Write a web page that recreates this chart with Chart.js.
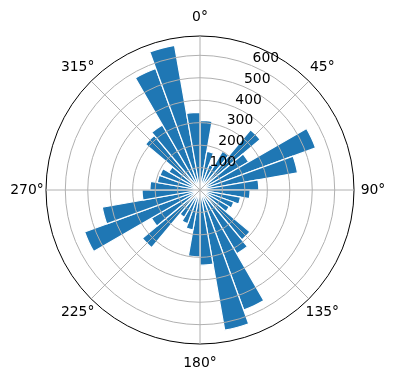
<!DOCTYPE html>
<html>
<head>
<meta charset="utf-8">
<script src="https://cdn.jsdelivr.net/npm/chart.js@4"></script>
<style>
  html, body { margin: 0; padding: 0; background: #fff; }
  #wrap { width: 396px; height: 380px; }
</style>
</head>
<body>
<div id="wrap"><canvas id="rose" width="396" height="380"></canvas></div>
<script>
// 36 bins of 10 degrees, clockwise from north (0-10, 10-20, ...)
const binCounts = [
  310, 175, 120, 200, 350, 250, 548, 441, 262,
  223, 183, 160, 150, 290, 328, 569, 634, 335,
  298, 180, 160, 140, 335, 250, 547, 442, 258,
  223, 193, 190, 160, 317, 335, 576, 654, 346,
];
const angleLabels = ["0°", "45°", "90°", "135°", "180°", "225°", "270°", "315°"];
const radialTicks = [100, 200, 300, 400, 500, 600];
const rMax = 686;

const barColor = "#1f77b4";
const gridColor = "#b0b0b0";

// text that matplotlib puts around the polar axes
const polarText = {
  id: "polarText",
  afterDraw(chart) {
    const r = chart.scales.r;
    const ctx = chart.ctx;
    ctx.save();
    ctx.fillStyle = "#000";
    ctx.font = '13.9px "DejaVu Sans"';

    // r tick labels sit along the 22.5 degree ray
    const a = (22.5 * Math.PI) / 180;
    ctx.textAlign = "left";
    ctx.textBaseline = "bottom";
    radialTicks.forEach((v) => {
      const d = r.getDistanceFromCenterForValue(v);
      ctx.fillText(String(v), r.xCenter + d * Math.sin(a) + 1, r.yCenter - d * Math.cos(a));
    });

    // theta labels outside the outer circle
    ctx.textAlign = "center";
    ctx.textBaseline = "middle";
    angleLabels.forEach((lab, i) => {
      const p = r.getPointPosition(i, r.drawingArea + 19);
      ctx.fillText(lab, p.x, p.y);
    });
    ctx.restore();
  },
};

new Chart(document.getElementById("rose"), {
  type: "polarArea",
  data: {
    labels: angleLabels,
    datasets: [
      {
        data: binCounts,
        backgroundColor: barColor,
        borderColor: "#ffffff",
        borderWidth: 1.2,
      },
    ],
  },
  options: {
    responsive: false,
    animation: false,
    devicePixelRatio: 1,
    layout: { padding: { left: 46, top: 36, right: 42, bottom: 36 } },
    plugins: {
      legend: { display: false },
      tooltip: { enabled: false },
    },
    scales: {
      r: {
        min: 0,
        max: rMax,
        startAngle: 0,
        afterBuildTicks: (scale) => {
          scale.ticks = [0, ...radialTicks, rMax].map((v) => ({ value: v }));
        },
        ticks: { display: false },
        pointLabels: { display: false },
        grid: {
          z: 1,
          circular: true,
          lineWidth: 1,
          color: (c) => (c.tick && c.tick.value === rMax ? "#000000" : gridColor),
        },
        angleLines: { display: true, color: gridColor, lineWidth: 1 },
      },
    },
  },
  plugins: [polarText],
});
</script>
</body>
</html>
